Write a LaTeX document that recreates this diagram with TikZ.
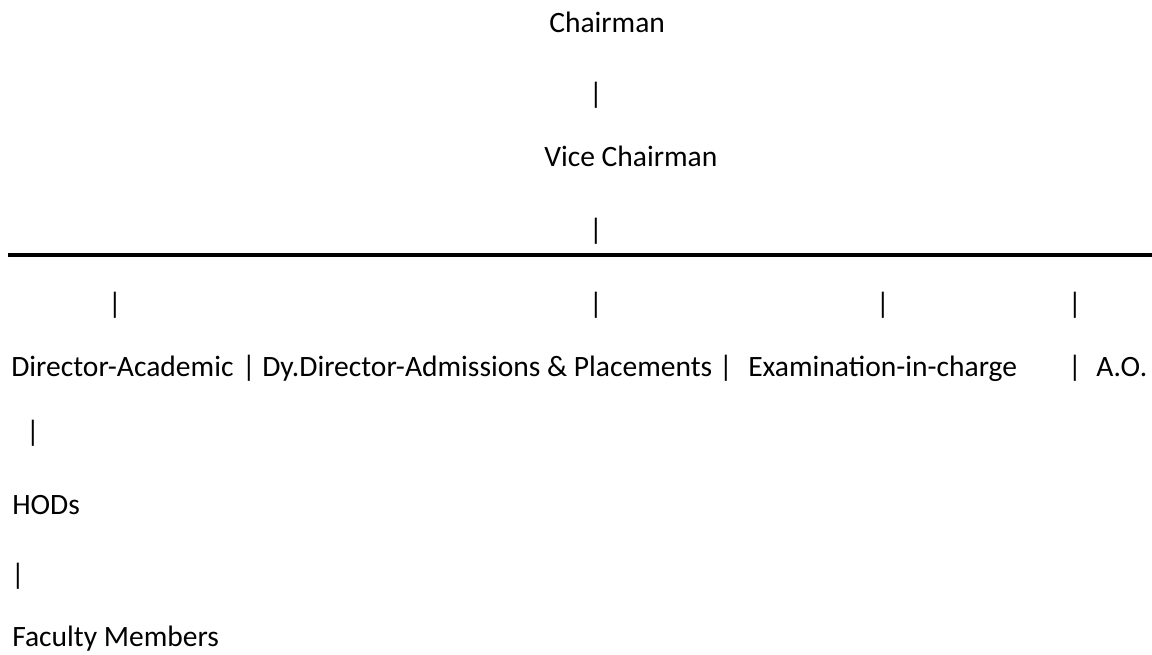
\documentclass[tikz,border=0pt]{standalone}
\usepackage{fontspec}
\setmainfont{Carlito}
\usepackage{tikz}

\begin{document}
\begin{tikzpicture}[x=0.025cm, y=-0.025cm,
   every node/.style={inner sep=0pt, font=\fontsize{21pt}{25pt}\selectfont},
   txt/.style={anchor=base west},
   bar/.style={anchor=base}]
   \useasboundingbox (0,0) rectangle (1152,655);
         \node[txt] (C) at (549,33) {Chairman};
         \node[bar] (b1) at (596,104) {|};
         \node[txt] (V) at (544,167) {Vice Chairman};
         \node[bar] (b2) at (596,240) {|};
         \draw[line width=3.5pt] (8,255) coordinate (L) -- (1152,255) coordinate (R);
         \node[bar] (d1) at (115,314) {|};
         \node[bar] (d2) at (596,314) {|};
         \node[bar] (d3) at (883,314) {|};
         \node[bar] (d4) at (1075,314) {|};
         \node[txt] (DA) at (11,377) {Director-Academic};
         \node[bar] (s1) at (249,377) {|};
         \node[txt] (DD) at (262,377) {Dy.Director-Admissions \& Placements};
         \node[bar] (s2) at (726,377) {|};
         \node[txt] (EX) at (748,377) {Examination-in-charge};
         \node[bar] (s3) at (1075,377) {|};
         \node[txt] (AO) at (1096,377) {A.O.};
         \node[bar] (h1) at (33,442) {|};
         \node[txt] (H) at (12,515) {HODs};
         \node[bar] (h2) at (18,584) {|};
         \node[txt] (F) at (12,646) {Faculty Members};
      \end{tikzpicture}
\end{document}
